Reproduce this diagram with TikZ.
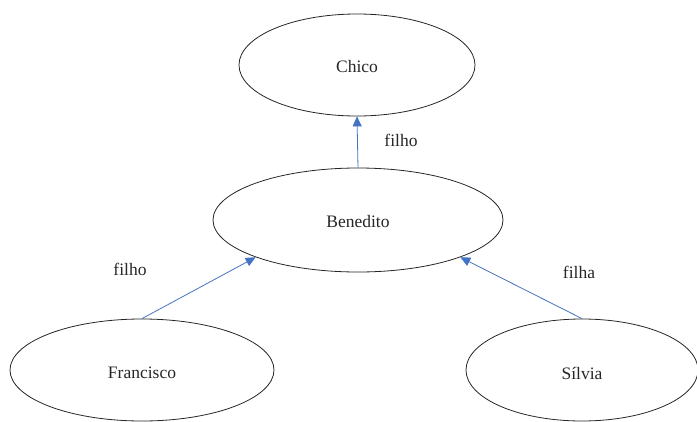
\documentclass[tikz,border=0pt]{standalone}
\usepackage{fontspec}
\setmainfont{Liberation Serif}
\newfontfamily\dserif{Liberation Serif}
\usetikzlibrary{shapes.geometric,arrows.meta}
\newcommand{\lowtxt}[2]{\raisebox{-#1}[\height][\depth]{#2}}
\begin{document}
\begin{tikzpicture}[x=1pt,y=-1pt,
  person/.style={draw=black!85,line width=0.8pt,ellipse,inner sep=0pt,font=\dserif\fontsize{17.5}{20}\selectfont,text=black!85},
  rel/.style={draw={rgb,255:red,68;green,114;blue,196},line width=0.8pt,-{Triangle[length=10pt,width=9pt]}},
  lbl/.style={font=\dserif\fontsize{17.5}{20}\selectfont,text=black!85,inner sep=0pt}]
\useasboundingbox (0,0) rectangle (697,421);
\node[person,minimum width=236pt,minimum height=102pt] (chico) at (357,65) {\lowtxt{2pt}{Chico}};
\node[person,minimum width=290pt,minimum height=104pt] (bene) at (358,220) {\lowtxt{2pt}{Benedito}};
\node[person,minimum width=264pt,minimum height=102pt] (fran) at (142,370) {\lowtxt{3pt}{Francisco}};
\node[person,minimum width=232pt,minimum height=102pt] (silv) at (582,370) {\lowtxt{3pt}{Sílvia}};
\draw[rel] (bene.north) -- (chico.south);
\draw[rel] (fran.north) -- (bene.200.4);
\draw[rel] (silv.north) -- (bene.340.4);
\node[lbl] (l1) at (401,140) {filho};
\node[lbl] (l2) at (130,269) {filho};
\node[lbl] (l3) at (579,272) {filha};
\end{tikzpicture}
\end{document}
